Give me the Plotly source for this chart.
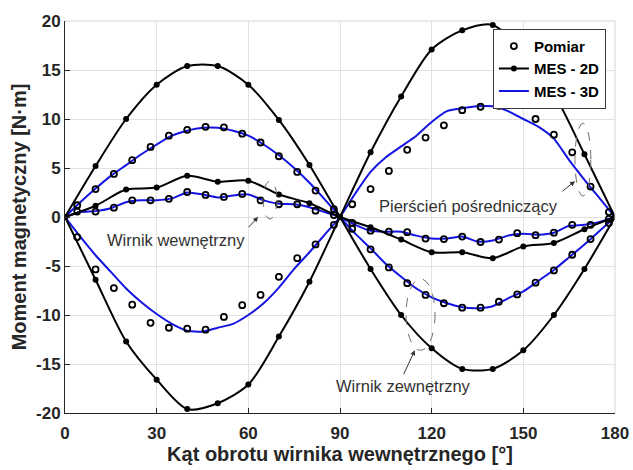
import plotly.graph_objects as go

# ---------------- data ----------------
x_2d = [0, 10, 20, 30, 40, 50, 60, 70, 80, 90, 100, 110, 120, 130, 140, 150, 160, 170, 180]
outer_2d = [0, 5.2, 10.0, 13.5, 15.4, 15.4, 13.5, 9.9, 5.3, 0, -5.3, -10.0, -13.4, -15.5, -15.5, -13.6, -10.0, -5.3, 0]
ring_2d = [0, -6.4, -12.7, -16.6, -19.6, -19.0, -17.1, -12.2, -6.6, 0, 6.6, 12.3, 17.1, 19.05, 19.6, 16.8, 12.6, 6.4, 0]
inner_2d = [0, 1.15, 2.8, 3.0, 4.2, 3.6, 3.7, 2.3, 1.4, 0, -1.05, -2.3, -3.6, -3.6, -4.2, -3.0, -2.65, -1.25, 0]

x_3d = [0, 5, 10, 15, 20, 25, 30, 35, 40, 45, 50, 55, 60, 65, 70, 75, 80, 85, 90,
        95, 100, 105, 110, 115, 120, 125, 130, 135, 140, 145, 150, 155, 160, 165, 170, 175, 180]
outer_3d = [0, 1.5, 2.9, 4.2, 5.3, 6.4, 7.4, 8.3, 8.8, 9.1, 9.1, 8.8, 8.3, 7.4, 6.3, 5.0, 3.5, 1.8, 0,
            -1.7, -3.2, -4.8, -6.1, -7.3, -8.2, -8.8, -9.2, -9.3, -9.1, -8.3, -7.6, -6.5, -5.4, -4.1, -2.8, -1.4, 0]
ring_3d = [0, -2.0, -3.9, -5.6, -7.3, -8.7, -9.9, -10.9, -11.6, -11.7, -11.3, -10.9, -10.0, -8.8, -7.2, -5.3, -3.6, -1.8, 0,
           2.4, 4.6, 6.1, 7.2, 8.3, 9.7, 10.8, 11.1, 11.3, 11.3, 10.8, 10.0, 9.2, 8.0, 5.8, 3.8, 1.9, 0]
inner_3d = [0, 0.5, 0.6, 0.9, 1.5, 1.7, 1.7, 1.9, 2.5, 2.3, 2.0, 2.2, 2.3, 1.7, 1.35, 1.3, 1.0, 0.5, 0,
            -0.8, -1.4, -1.5, -1.5, -1.9, -2.2, -2.2, -2.0, -2.5, -2.4, -1.9, -1.7, -1.8, -1.6, -0.9, -0.8, -0.5, 0]

x_meas = [4, 10, 16, 22, 28, 34, 40, 46, 52, 58, 64, 70, 76, 82, 88,
          94, 100, 106, 112, 118, 124, 130, 136, 142, 148, 154, 160, 166, 172, 178]
outer_meas = [1.2, 2.85, 4.4, 5.8, 7.15, 8.3, 8.9, 9.2, 9.15, 8.5, 7.6, 6.2, 4.6, 2.7, 0.8,
              -1.2, -3.3, -5.15, -6.75, -7.95, -8.8, -9.25, -9.25, -8.65, -7.9, -6.7, -5.45, -3.85, -2.25, -0.6]
ring_meas = [-2.05, -5.35, -7.25, -8.95, -10.8, -11.3, -11.4, -11.5, -10.2, -9.0, -7.95, -6.1, -4.2, -2.8, -0.8,
             1.3, 2.85, 4.7, 6.85, 8.1, 9.35, 10.9, 11.25, 11.35, 11.45, 10.0, 8.4, 6.6, 3.1, 0.5]
inner_meas = [0.55, 0.55, 0.95, 1.7, 1.7, 1.85, 2.55, 2.25, 2.05, 2.35, 1.7, 1.3, 1.3, 0.65, 0.2,
              -0.6, -1.4, -1.5, -1.55, -2.2, -2.25, -2.0, -2.55, -2.3, -1.65, -1.85, -1.6, -0.8, -0.8, -0.2]

x_ticks = [0, 30, 60, 90, 120, 150, 180]
y_ticks = [-20, -15, -10, -5, 0, 5, 10, 15, 20]

BLUE = "rgb(20,20,225)"
FONT = "Liberation Sans, Arial, sans-serif"
DARK = "rgb(38,38,38)"

fig = go.Figure()

for i, d3 in enumerate([outer_3d, ring_3d, inner_3d]):
    fig.add_trace(go.Scatter(x=x_3d, y=d3, mode="lines", name="MES - 3D",
                             line=dict(color=BLUE, width=2, shape="spline", smoothing=0.6),
                             legendgroup="3d", showlegend=(i == 0), legendrank=3))
for i, d2 in enumerate([outer_2d, ring_2d, inner_2d]):
    fig.add_trace(go.Scatter(x=x_2d, y=d2, mode="lines+markers", name="MES - 2D",
                             line=dict(color="black", width=2, shape="spline", smoothing=0.8),
                             marker=dict(color="black", size=6, symbol="circle"),
                             legendgroup="2d", showlegend=(i == 0), legendrank=2))
for i, dm in enumerate([outer_meas, ring_meas, inner_meas]):
    fig.add_trace(go.Scatter(x=x_meas, y=dm, mode="markers", name="Pomiar",
                             marker=dict(symbol="circle-open", color="black", size=6,
                                         line=dict(width=1.8, color="black")),
                             legendgroup="m", showlegend=(i == 0), legendrank=1))

# dashed ellipses
ellipses = [(64.8, 69.4, -0.2, 3.66), (166.9, 172.1, 2.14, 9.56), (111.6, 121.1, -13.6, -6.3)]
for x0, x1, y0, y1 in ellipses:
    fig.add_shape(type="circle", xref="x", yref="y", x0=x0, x1=x1, y0=y0, y1=y1,
                  line=dict(color="rgb(110,110,110)", width=1, dash="dash"))

# texts and arrows
labels = [("Wirnik wewnętrzny", 36.3, -2.3, 59.6, -1.2, 63.2, 0.0),
          ("Pierścień pośredniczący", 132.2, 1.1, 162.3, 2.5, 166.9, 3.66),
          ("Wirnik zewnętrzny", 110.9, -17.2, 110.6, -16.2, 114.5, -13.6)]
for txt, tx, ty, ax0, ay0, hx, hy in labels:
    fig.add_annotation(x=tx, y=ty, xref="x", yref="y", text=txt, showarrow=False,
                       font=dict(family=FONT, size=16.5, color="rgb(50,50,50)"))
    fig.add_annotation(x=hx, y=hy, ax=ax0, ay=ay0, xref="x", yref="y", axref="x", ayref="y",
                       text="", showarrow=True, arrowhead=2, arrowsize=1, arrowwidth=1,
                       arrowcolor="rgb(50,50,50)")

# top/right frame in light gray
fig.add_shape(type="line", xref="paper", yref="paper", x0=0, x1=1, y0=1, y1=1,
              line=dict(color="rgb(215,215,215)", width=1))
fig.add_shape(type="line", xref="paper", yref="paper", x0=1, x1=1, y0=0, y1=1,
              line=dict(color="rgb(215,215,215)", width=1))

fig.update_layout(
    width=633, height=470,
    margin=dict(l=65, r=18, t=21, b=57),
    paper_bgcolor="white", plot_bgcolor="white",
    font=dict(family=FONT, color=DARK),
    legend=dict(x=0.778, y=0.98, xanchor="left", yanchor="top",
                bgcolor="white", bordercolor="rgb(60,60,60)", borderwidth=1,
                font=dict(family=FONT, size=15, color="black", weight="bold"),
                tracegroupgap=0, itemwidth=30),
    xaxis=dict(range=[0, 180], tickvals=x_ticks, ticktext=[str(v) for v in x_ticks],
               automargin=False,
               showgrid=True, gridcolor="rgb(225,225,225)", gridwidth=1,
               zeroline=False, showline=True, linecolor=DARK, linewidth=1,
               ticks="inside", ticklen=5, tickcolor=DARK, ticklabelstandoff=5,
               tickfont=dict(family=FONT, size=17, color=DARK, weight="bold"),
               title=dict(text="Kąt obrotu wirnika wewnętrznego [°]", standoff=2,
                          font=dict(family=FONT, size=20, color=DARK, weight="bold"))),
    yaxis=dict(range=[-20, 20], tickvals=y_ticks, ticktext=[str(v) for v in y_ticks],
               automargin=False,
               showgrid=True, gridcolor="rgb(225,225,225)", gridwidth=1,
               zeroline=False, showline=True, linecolor=DARK, linewidth=1,
               ticks="inside", ticklen=5, tickcolor=DARK,
               tickfont=dict(family=FONT, size=17, color=DARK, weight="bold"),
               title=dict(text="Moment magnetyczny [N·m]", standoff=4,
                          font=dict(family=FONT, size=20, color=DARK, weight="bold"))),
)

fig.write_html("out.html")
